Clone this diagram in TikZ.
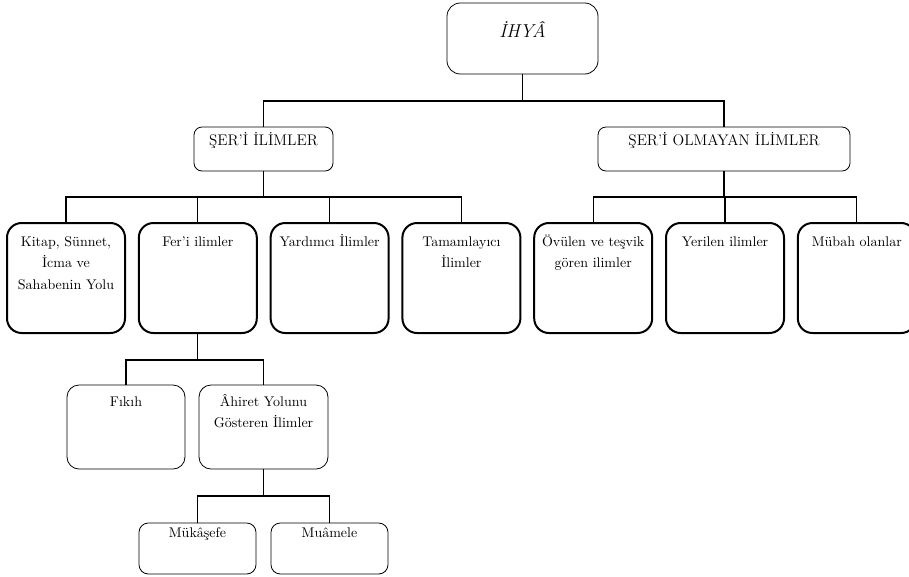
\documentclass[tikz,border=0pt]{standalone}
\usepackage{fontspec}
\usetikzlibrary{positioning}

\begin{document}
\begin{tikzpicture}[x=0.75pt, y=-0.75pt,
  tbox/.style n args={4}{draw, rounded corners=#4, inner sep=0pt, outer sep=0pt, anchor=north west,
    font=\fontsize{10.5}{16}\selectfont,
    execute at begin node={\begin{minipage}[t][#2][t]{#1}\centering\rule{0pt}{#3}},
    execute at end node={\end{minipage}}},
  rootnode/.style={tbox={113.25pt}{53.25pt}{26pt}{10pt}, line width=0.6pt, font=\fontsize{14}{16}\selectfont\itshape},
  headnode/.style={tbox={#1}{33pt}{13.5pt}{6pt}, line width=0.6pt, font=\fontsize{11.5}{16}\selectfont},
  mainnode/.style={tbox={88.5pt}{82.5pt}{17.5pt}{11pt}, line width=1.5pt},
  subnode/.style={tbox={#1}{63pt}{15.75pt}{9pt}, line width=0.6pt},
  leafnode/.style={tbox={87.75pt}{38.25pt}{10.5pt}{7pt}, line width=0.6pt},
  conn/.style={line width=0.9pt}]

\useasboundingbox (0,0) rectangle (909,576);

\node[rootnode] (ihya) at (447,3) {İHYÂ};

\node[headnode=104.25pt] (ser) at (194,127) {ŞER'İ İLİMLER};
\node[headnode=189pt] (serolm) at (598,127) {ŞER'İ OLMAYAN İLİMLER};

\draw[conn] (ihya.south) -- ++(0,27) coordinate (j0);
\draw[conn] (ser.north) |- (j0) -| (serolm.north);

\node[mainnode] (kitap) at (7,223) {Kitap, Sünnet,\\ İcma ve\\ Sahabenin Yolu};
\node[mainnode, right=10.35pt of kitap] (feri) {Fer'i ilimler};
\node[mainnode, right=10.35pt of feri] (yard) {Yardımcı İlimler};
\node[mainnode, right=10.35pt of yard] (tamam) {Tamamlayıcı\\ İlimler};

\node[mainnode, right=10.35pt of tamam] (ovulen) {Övülen ve teşvik\\ gören ilimler};
\node[mainnode, right=10.35pt of ovulen] (yeril) {Yerilen ilimler};
\node[mainnode, right=10.35pt of yeril] (mubah) {Mübah olanlar};

\draw[conn] (ser.south) -- ++(0,26) coordinate (j1);
\draw[conn] (kitap.north) |- (j1) -| (tamam.north);
\draw[conn] (feri.north) -- (feri.north |- j1);
\draw[conn] (yard.north) -- (yard.north |- j1);

\draw[conn] (serolm.south) -- ++(0,26) coordinate (j2);
\draw[conn] (ovulen.north) |- (j2) -| (mubah.north);
\draw[conn] (yeril.north) -- (yeril.north |- j2);

\node[subnode=88.5pt] (fikih) at (67,385) {Fıkıh};
\node[subnode=96.75pt, right=10.5pt of fikih] (ahiret) {Âhiret Yolunu\\ Gösteren İlimler};

\draw[conn] (feri.south) -- ++(0,27) coordinate (j3);
\draw[conn] (fikih.north) |- (j3) -| (ahiret.north);

\node[leafnode] (mukasefe) at (139,523) {Mükâşefe};
\node[leafnode, right=11.25pt of mukasefe] (muamele) {Muâmele};

\draw[conn] (ahiret.south) -- ++(0,27) coordinate (j4);
\draw[conn] (mukasefe.north) |- (j4) -| (muamele.north);

\end{tikzpicture}
\end{document}
